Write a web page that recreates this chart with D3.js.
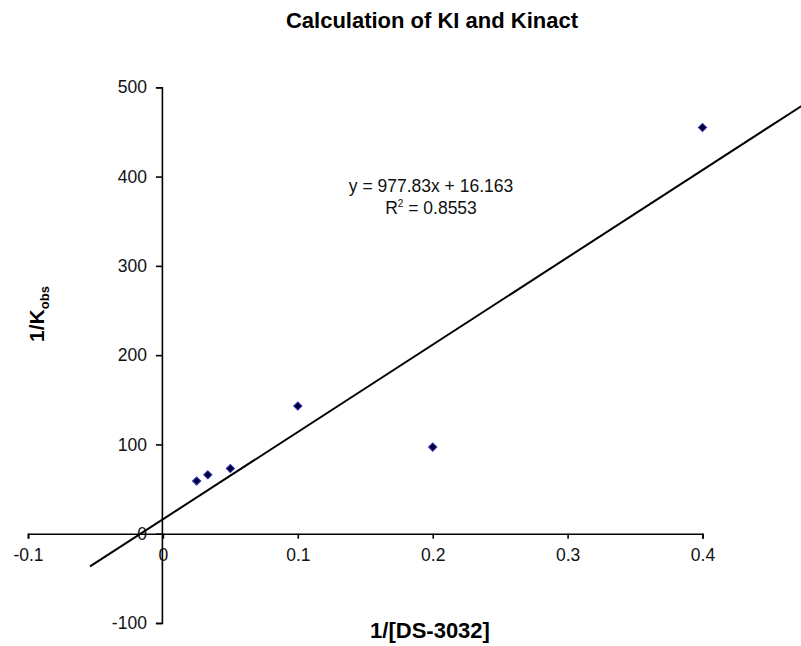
<!DOCTYPE html>
<html>
<head>
<meta charset="utf-8">
<script src="https://cdn.jsdelivr.net/npm/d3@7"></script>
<style>
  body { margin: 0; background: #fff; }
  svg { display: block; font-family: "Liberation Sans", Arial, sans-serif; }
</style>
</head>
<body>
<div id="chart"></div>
<script>
// 1/[DS-3032] vs 1/Kobs readings
const invConc = [0.025, 0.0333, 0.05, 0.1, 0.2, 0.4];
const invKobs = [59, 66, 73, 143, 97, 455];
const xTicks = [-0.1, 0, 0.1, 0.2, 0.3, 0.4];
const yTicks = [-100, 0, 100, 200, 300, 400, 500];
const slope = 977.83;
const intercept = 16.163;
const rSquared = 0.8553;
const trendRange = [-0.054, 0.5];

const width = 801, height = 646;

const svg = d3.select("#chart")
    .append("svg")
    .attr("width", width)
    .attr("height", height);

const x = d3.scaleLinear().domain([-0.1, 0.4]).range([28, 702.5]);
const y = d3.scaleLinear().domain([-100, 500]).range([623, 87.3]);

// plain hyphen for negatives, like the original
const fmt = d => String(d).replace("\u2212", "-");

// Title
svg.append("text")
    .attr("x", 432)
    .attr("y", 28)
    .attr("text-anchor", "middle")
    .style("font-size", "22px")
    .style("font-weight", "bold")
    .text("Calculation of KI and Kinact");

// x axis sits on y = 0
const xAxis = d3.axisBottom(x)
    .tickValues(xTicks)
    .tickSize(5)
    .tickPadding(10)
    .tickFormat(fmt);

const gx = svg.append("g")
    .attr("transform", `translate(0, ${y(0)})`)
    .call(xAxis);

// y axis sits on x = 0
const yAxis = d3.axisLeft(y)
    .tickValues(yTicks)
    .tickSize(6)
    .tickPadding(9)
    .tickFormat(fmt);

const gy = svg.append("g")
    .attr("transform", `translate(${x(0) - 1}, 0)`)
    .call(yAxis);

[gx, gy].forEach(g => {
    g.select(".domain").attr("stroke", "#000").attr("stroke-width", 1.6);
    g.selectAll(".tick line").attr("stroke", "#000").attr("stroke-width", 1.6);
    g.selectAll(".tick text")
        .attr("fill", "#111")
        .style("font-size", "17.5px")
        .style("font-family", "'Liberation Sans', Arial, sans-serif");
});

// Trendline
svg.append("line")
    .attr("x1", x(trendRange[0]))
    .attr("y1", y(slope * trendRange[0] + intercept))
    .attr("x2", x(trendRange[1]))
    .attr("y2", y(slope * trendRange[1] + intercept))
    .attr("stroke", "#000")
    .attr("stroke-width", 2);

// Data points (square turned 45 degrees)
svg.selectAll("path.pt")
    .data(invConc.map((d, i) => [d, invKobs[i]]))
    .join("path")
    .attr("class", "pt")
    .attr("d", d3.symbol().type(d3.symbolSquare).size(34))
    .attr("transform", d => `translate(${x(d[0])}, ${y(d[1])}) rotate(45)`)
    .attr("fill", "#000033")
    .attr("stroke", "#3030c0")
    .attr("stroke-width", 1);

// Equation
const eq = svg.append("text")
    .attr("text-anchor", "middle")
    .style("font-size", "17.5px")
    .attr("fill", "#111");
eq.append("tspan").attr("x", 431).attr("y", 192)
    .text(`y = ${slope}x + ${intercept}`);
const r2 = eq.append("tspan").attr("x", 431).attr("y", 214);
r2.append("tspan").text("R");
r2.append("tspan").attr("dy", -7).style("font-size", "10px").text("2");
r2.append("tspan").attr("dy", 7).text(` = ${rSquared}`);

// Axis titles
svg.append("text")
    .attr("x", 430)
    .attr("y", 638)
    .attr("text-anchor", "middle")
    .style("font-size", "22px")
    .style("font-weight", "bold")
    .text("1/[DS-3032]");

const yl = svg.append("text")
    .attr("transform", "translate(44, 314) rotate(-90)")
    .attr("text-anchor", "middle")
    .style("font-size", "21px")
    .style("font-weight", "bold");
yl.append("tspan").text("1/K");
yl.append("tspan").attr("dy", 5).style("font-size", "13px").text("obs");
</script>
</body>
</html>
